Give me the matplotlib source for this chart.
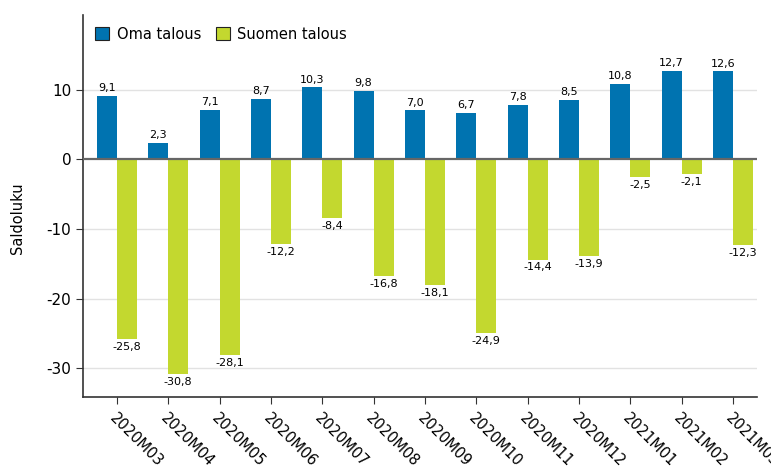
import numpy as np
import matplotlib.pyplot as plt

# Kuukaudet ja saldoluvut
kuukaudet = ['2020M03', '2020M04', '2020M05', '2020M06', '2020M07', '2020M08', '2020M09',
             '2020M10', '2020M11', '2020M12', '2021M01', '2021M02', '2021M03']
oma_talous = [9.1, 2.3, 7.1, 8.7, 10.3, 9.8, 7.0, 6.7, 7.8, 8.5, 10.8, 12.7, 12.6]
suomen_talous = [-25.8, -30.8, -28.1, -12.2, -8.4, -16.8, -18.1, -24.9, -14.4, -13.9, -2.5, -2.1, -12.3]

sininen = '#0073b0'
vihrea = '#c3d82f'

fig = plt.figure(figsize=(7.71, 4.69), dpi=100)
ax = fig.add_axes([83/771, 1 - 397/469, (757 - 83)/771, (397 - 15)/469])

x = np.arange(len(kuukaudet))
leveys = 0.39
b1 = ax.bar(x - leveys/2, oma_talous, leveys, color=sininen, label='Oma talous', zorder=3)
b2 = ax.bar(x + leveys/2, suomen_talous, leveys, color=vihrea, label='Suomen talous', zorder=3)

def muoto(v):
    return f'{v:.1f}'.replace('.', ',')

for rect, v in zip(b1, oma_talous):
    ax.annotate(muoto(v), (rect.get_x() + rect.get_width()/2, v), xytext=(0, 2),
                textcoords='offset points', ha='center', va='bottom', fontsize=8)
for rect, v in zip(b2, suomen_talous):
    ax.annotate(muoto(v), (rect.get_x() + rect.get_width()/2, v), xytext=(0, -2),
                textcoords='offset points', ha='center', va='top', fontsize=8)

ax.set_xlim(-0.66, 12.47)
ax.set_ylim(-34.1, 20.7)
ax.set_yticks([-30, -20, -10, 0, 10])
ax.set_yticklabels(['-30', '-20', '-10', '0', '10'], fontsize=11)
ax.set_xticks(x)
ax.set_xticklabels(kuukaudet, rotation=-45, ha='left', va='top', rotation_mode='anchor', fontsize=10.5)
ax.tick_params(axis='x', length=5, color='#333333', pad=5)
ax.tick_params(axis='y', length=5, color='#333333')

for yv in [-30, -20, -10, 10]:
    ax.axhline(yv, color='#e2e2e2', linewidth=1, zorder=1)
ax.axhline(0, color='#666666', linewidth=1.6, zorder=4)

ax.spines['top'].set_visible(False)
ax.spines['right'].set_visible(False)
ax.spines['left'].set_color('#333333')
ax.spines['bottom'].set_color('#333333')
ax.spines['left'].set_linewidth(1.2)
ax.spines['bottom'].set_linewidth(1.2)

ax.set_ylabel('Saldoluku', fontsize=10.5)
ax.yaxis.set_label_coords(-0.086, 0.469)

leg = ax.legend(loc='upper left', ncol=2, frameon=False, fontsize=10.5,
                handlelength=1.0, handleheight=1.0, handletextpad=0.5, columnspacing=1.0,
                borderaxespad=0.4)
for h in leg.legend_handles:
    h.set_edgecolor('#222222')
    h.set_linewidth(0.8)

fig.savefig('out.png', dpi=100)
